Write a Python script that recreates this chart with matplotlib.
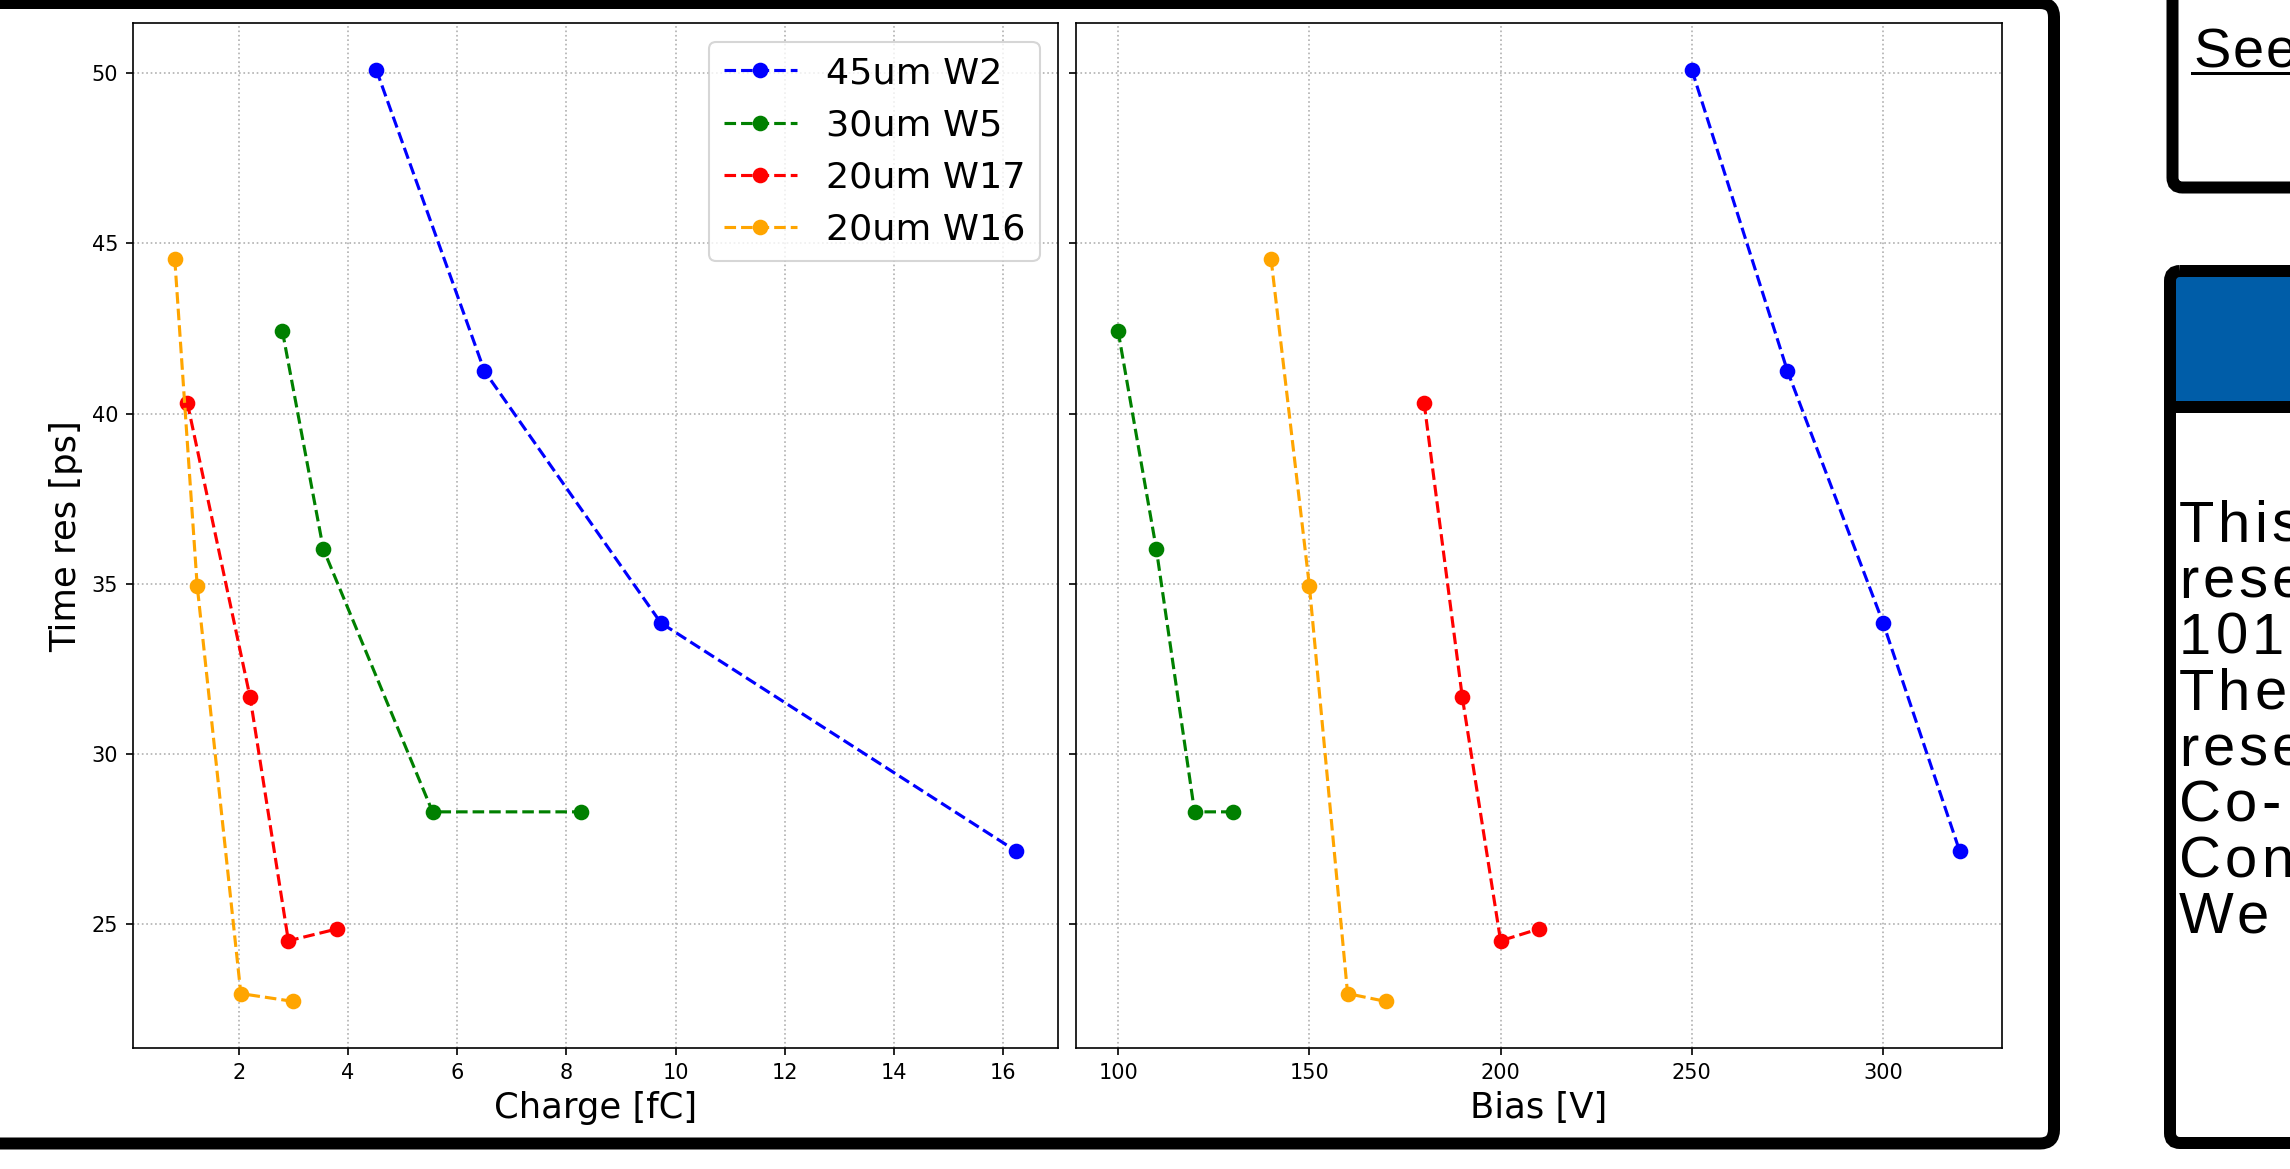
import numpy as np
import matplotlib
matplotlib.use("Agg")
import matplotlib.pyplot as plt
from matplotlib.patches import FancyBboxPatch, Rectangle
from matplotlib.font_manager import FontProperties

# ------------------------------------------------
#  Data
# ------------------------------------------------

labels = ["45um W2", "30um W5", "20um W17", "20um W16"]
colors = ["blue", "green", "red", "orange"]

charge = [
    [4.52, 6.50, 9.73, 16.23],
    [2.80, 3.55, 5.55, 8.27],
    [1.06, 2.21, 2.91, 3.80],
    [0.83, 1.24, 2.04, 3.00],
]
bias = [
    [250, 275, 300, 320],
    [100, 110, 120, 130],
    [180, 190, 200, 210],
    [140, 150, 160, 170],
]
time_res = [
    [50.10, 41.25, 33.85, 27.15],
    [42.43, 36.02, 28.30, 28.30],
    [40.32, 31.66, 24.51, 24.86],
    [44.54, 34.95, 22.96, 22.73],
]

side_text = ["This", "rese", "101", "The", "rese", "Co-", "Con", "We"]

# ------------------------------------------------
#  Figure
# ------------------------------------------------

W, H = 2290, 1169
DPI = 150
PX = 72.0 / DPI  # points per pixel

fig = plt.figure(figsize=(W / DPI, H / DPI), dpi=DPI)
fig.patch.set_facecolor("white")

ax1 = fig.add_axes([132.7 / W, 1 - 1048 / H, (1058 - 132.7) / W, (1048 - 23.3) / H])
ax2 = fig.add_axes([1076 / W, 1 - 1048 / H, (2001.7 - 1076) / W, (1048 - 23.3) / H],
                   sharey=ax1)

for i in range(len(labels)):
    ax1.plot(charge[i], time_res[i], "--o", color=colors[i], label=labels[i], markersize=6.5)
    ax2.plot(bias[i], time_res[i], "--o", color=colors[i], label=labels[i], markersize=6.5)

ax1.set_xlabel("Charge [fC]", fontsize=17)
ax1.set_ylabel("Time res [ps]", fontsize=17)
ax2.set_xlabel("Bias [V]", fontsize=17)
plt.setp(ax2.get_yticklabels(), visible=False)

for ax in (ax1, ax2):
    ax.grid(True, linestyle=":")
    ax.tick_params(labelsize=10)

ax1.legend(loc="upper right", fontsize=17.5)

# ------------------------------------------------
#  Poster decorations around the chart
# ------------------------------------------------

deco = fig.add_axes([0, 0, 1, 1], zorder=5)
deco.set_xlim(0, W)
deco.set_ylim(H, 0)
deco.axis("off")
deco.patch.set_alpha(0)

lw_frame = 12 * PX
SIDE_FONT = "Liberation Sans"
TRACK = 4  # extra letter spacing in pixels

renderer = fig.canvas.get_renderer()
prop_small = FontProperties(family=SIDE_FONT, size=56 * PX)
prop_body = FontProperties(family=SIDE_FONT, size=58 * PX)


def ink_width(s, prop):
    w, _, _ = renderer.get_text_width_height_descent(s, prop, ismath=False)
    return w


def spaced_text(x, y, s, prop, track):
    # draw a string glyph by glyph with a little extra letter spacing
    for i, ch in enumerate(s):
        left = x + ink_width(s[:i + 1], prop) - ink_width(ch, prop) + track * i
        deco.text(left, y, ch, fontproperties=prop, va="baseline", ha="left")


# frame around the plot
deco.add_patch(FancyBboxPatch((-60, 3), 2054 + 60, 1143.5 - 3,
                              boxstyle="round,pad=0,rounding_size=14",
                              fc="none", ec="black", lw=lw_frame))

# upper right box
deco.add_patch(FancyBboxPatch((2172.5, -80), 400, 187.5 + 80,
                              boxstyle="round,pad=0,rounding_size=10",
                              fc="none", ec="black", lw=lw_frame))
spaced_text(2193, 68, "See", prop_small, 2)
deco.plot([2192, 2300], [73, 73], color="black", lw=3 * PX)

# lower right box with blue header
deco.add_patch(Rectangle((2176, 277), 300, 124, fc="#005DA8", ec="none"))
deco.add_patch(FancyBboxPatch((2170, 271), 400, 1143 - 271,
                              boxstyle="round,pad=0,rounding_size=10",
                              fc="none", ec="black", lw=lw_frame))
deco.plot([2170, 2400], [407, 407], color="black", lw=lw_frame, solid_capstyle="butt")

for k, line in enumerate(side_text):
    spaced_text(2179, 542 + 55.9 * k, line, prop_body, TRACK)

fig.savefig("out.png", dpi=DPI)
